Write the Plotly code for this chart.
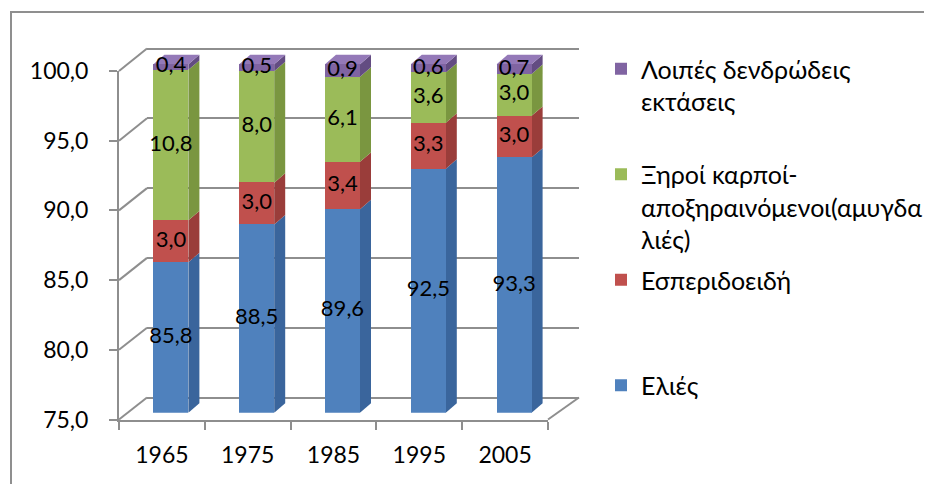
import plotly.graph_objects as go

# ---------------- data ----------------
years = ["1965", "1975", "1985", "1995", "2005"]
series_names = ["Ελιές", "Εσπεριδοειδή",
                "Ξηροί καρποί-αποξηραινόμενοι(αμυγδαλιές)", "Λοιπές δενδρώδεις εκτάσεις"]
olives = [85.8, 88.5, 89.6, 92.5, 93.3]
citrus = [3.0, 3.0, 3.4, 3.3, 3.0]
nuts = [10.8, 8.0, 6.1, 3.6, 3.0]
other = [0.4, 0.5, 0.9, 0.6, 0.7]
y_ticks = [75, 80, 85, 90, 95, 100]
y_min, y_max = 75, 100

# ---------------- styling ----------------
W, H = 932, 484
PAGE_OFF = 8  # browser default body margin
FONT = "Lato"
front_cols = ["#4F81BD", "#C0504D", "#9BBB59", "#8064A2"]
side_cols = ["#3A659C", "#9A3D3A", "#7A9640", "#634C82"]
top_col = "#9479B8"
legend_names = ["Ελιές",
                "Εσπεριδοειδή<br> <br> ",
                "Ξηροί καρποί-<br>αποξηραινόμενοι(αμυγδα<br>λιές)",
                "Λοιπές δενδρώδεις<br>εκτάσεις<br> "]
legend_ranks = [4, 3, 2, 1]
grid_col = "#8E8E8E"


def px(x):
    return (x - PAGE_OFF) / W


def py(y):
    return 1 - (y - PAGE_OFF) / H


def ydom(p_lo, p_hi, pad_top=0.0, pad_bot=0.0):
    scale = (p_lo - p_hi) / (y_max - y_min)
    dom = [py(p_lo + pad_bot), py(p_hi - pad_top)]
    rng = [y_min - pad_bot / scale, y_max + pad_top / scale]
    return dom, rng, scale


# front frame (axis) pixel geometry (page pixels)
F_LEFT, F_RIGHT, F_75, F_100 = 119, 548, 419.5, 71.0
# back wall
B_LEFT, B_RIGHT, B_75, B_100 = 147, 579, 397.5, 48.5
# bars (mid depth)
BAR_DX, BAR_75 = 9, 412.7
BAR_100 = BAR_75 - (F_75 - F_100)

front_dom, front_rng, f_scale = ydom(F_75, F_100)
back_dom, back_rng, b_scale = ydom(B_75, B_100, 3, 3)
bar_dom, bar_rng, bar_scale = ydom(BAR_75, BAR_100, 16, 0)

cat_px = (F_RIGHT - F_LEFT) / len(years)
bar_w = 35 / cat_px
ddx = 11 / cat_px
ddy = 9.4 / bar_scale

fig = go.Figure()

series = [olives, citrus, nuts, other]
idx = list(range(len(years)))

for k, vals in enumerate(series):
    fig.add_trace(go.Bar(
        x=idx, y=vals, name=legend_names[k], legendrank=legend_ranks[k],
        legendgroup=f"g{legend_ranks[k]}",
        marker=dict(color=front_cols[k], line=dict(width=0)),
        width=bar_w, xaxis="x3", yaxis="y3", hoverinfo="skip"))

# data labels centered in the visible part of each segment
lab_x, lab_y, lab_t = [], [], []
shapes = []
for i in idx:
    base = 0.0
    for k, vals in enumerate(series):
        lo = base
        hi = base + vals[i]
        base = hi
        vis_lo = max(lo, y_min)
        lab_x.append(i)
        lab_y.append((vis_lo + hi) / 2)
        lab_t.append(f"{vals[i]:.1f}".replace(".", ","))
        xr = i + bar_w / 2
        shapes.append(dict(
            type="path", xref="x3", yref="y3", layer="below",
            path=f"M{xr},{vis_lo} L{xr + ddx},{vis_lo + ddy} L{xr + ddx},{hi + ddy} L{xr},{hi} Z",
            fillcolor=side_cols[k], line=dict(width=0)))
        if k == len(series) - 1:
            xl = i - bar_w / 2
            shapes.append(dict(
                type="path", xref="x3", yref="y3", layer="below",
                path=f"M{xl},{hi} L{xr},{hi} L{xr + ddx},{hi + ddy} L{xl + ddx},{hi + ddy} Z",
                fillcolor=top_col, line=dict(width=0)))

fig.add_trace(go.Scatter(
    x=lab_x, y=lab_y, text=lab_t, mode="text", xaxis="x3", yaxis="y3",
    textfont=dict(family=FONT, size=22, color="black"),
    showlegend=False, cliponaxis=False, hoverinfo="skip"))

# invisible trace on back-wall axes so its grid draws
fig.add_trace(go.Scatter(x=[None], y=[None], xaxis="x2", yaxis="y2",
                         showlegend=False, hoverinfo="skip"))
# front axes trace (for category ticks)
fig.add_trace(go.Scatter(x=years, y=[None] * len(years), xaxis="x", yaxis="y",
                         showlegend=False, hoverinfo="skip"))


def f_y(v):
    return F_75 - (v - y_min) * f_scale


def b_y(v):
    return B_75 - (v - y_min) * b_scale


# left wall connectors
for v in y_ticks:
    shapes.append(dict(type="line", xref="paper", yref="paper", layer="below",
                       x0=px(F_LEFT), y0=py(f_y(v)), x1=px(B_LEFT), y1=py(b_y(v)),
                       line=dict(color=grid_col, width=2)))
# right floor edge
shapes.append(dict(type="line", xref="paper", yref="paper", layer="below",
                   x0=px(F_RIGHT), y0=py(f_y(y_min)), x1=px(B_RIGHT), y1=py(b_y(y_min)),
                   line=dict(color=grid_col, width=2)))
# outer frame
shapes.append(dict(type="rect", xref="paper", yref="paper", layer="below",
                   x0=px(11), y0=py(H + 40), x1=px(W + 40), y1=py(12),
                   line=dict(color="#8F8F8F", width=2), fillcolor="rgba(0,0,0,0)"))

fig.update_layout(
    template="none",
    width=W, height=H, autosize=False,
    margin=dict(l=0, r=0, t=0, b=0, pad=0, autoexpand=False),
    paper_bgcolor="white", plot_bgcolor="rgba(0,0,0,0)",
    barmode="stack", bargap=0,
    separators=",.",
    font=dict(family=FONT, size=22, color="black"),
    shapes=shapes,
    showlegend=True,
    legend=dict(x=px(601), y=py(46), xanchor="left", yanchor="top",
                traceorder="grouped", tracegroupgap=5, valign="top",
                font=dict(family=FONT, size=25, color="black"),
                itemclick=False, itemdoubleclick=False, bgcolor="rgba(0,0,0,0)",
                borderwidth=0),
    xaxis=dict(domain=[px(F_LEFT), px(F_RIGHT)], type="category",
               categoryorder="array", categoryarray=years,
               range=[-0.5, len(years) - 0.5], anchor="y", automargin=False,
               showline=True, linecolor=grid_col, linewidth=2,
               ticks="outside", ticklen=8, tickcolor=grid_col, tickwidth=2,
               tickson="boundaries", showgrid=False, zeroline=False,
               ticklabelstandoff=14,
               tickfont=dict(family=FONT, size=23, color="black")),
    yaxis=dict(domain=front_dom, range=front_rng, anchor="x", automargin=False,
               tickmode="array", tickvals=y_ticks,
               ticktext=[f"{v:.1f}".replace(".", ",") for v in y_ticks],
               showline=True, linecolor=grid_col, linewidth=2,
               ticks="outside", ticklen=8, tickcolor=grid_col, tickwidth=2,
               showgrid=False, zeroline=False, ticklabelstandoff=16,
               tickfont=dict(family=FONT, size=23, color="black")),
    xaxis2=dict(domain=[px(B_LEFT), px(B_RIGHT)], range=[0, 1], anchor="y2",
                automargin=False, showticklabels=False, showgrid=False,
                zeroline=False, showline=False, ticks=""),
    yaxis2=dict(domain=back_dom, range=back_rng, anchor="x2", automargin=False,
                tickmode="array", tickvals=y_ticks, showticklabels=False,
                showgrid=True, gridcolor=grid_col, gridwidth=2,
                zeroline=False, showline=False, ticks=""),
    xaxis3=dict(domain=[px(F_LEFT + BAR_DX), px(F_RIGHT + BAR_DX)],
                range=[-0.5, len(years) - 0.5], anchor="y3", visible=False,
                automargin=False),
    yaxis3=dict(domain=bar_dom, range=bar_rng, anchor="x3", visible=False,
                automargin=False),
)

fig.write_html("out.html")
